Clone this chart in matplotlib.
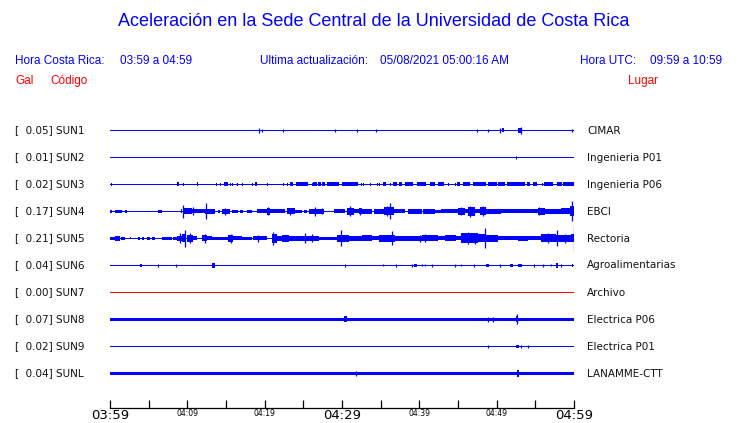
import matplotlib
matplotlib.use("Agg")
import matplotlib.pyplot as plt

# ---------------- data ----------------
codes = ["SUN1", "SUN2", "SUN3", "SUN4", "SUN5", "SUN6", "SUN7", "SUN8", "SUN9", "SUNL"]
gal = [0.05, 0.01, 0.02, 0.17, 0.21, 0.04, 0.00, 0.07, 0.02, 0.04]
places = ["CIMAR", "Ingenieria P01", "Ingenieria P06", "EBCI", "Rectoria",
          "Agroalimentarias", "Archivo", "Electrica P06", "Electrica P01", "LANAMME-CTT"]
trace_colors = ["#0000ff"] * 6 + ["#ff0000"] + ["#0000ff"] * 3
# baseline half thickness of each trace (display px)
base_half = [0.5, 0.5, 0.5, 0.6, 0.8, 0.5, 0.5, 1.7, 0.5, 1.7]

tick_minutes = list(range(0, 61, 5))
tick_labels = ["03:59", "", "04:09", "", "04:19", "", "04:29", "", "04:39", "", "04:49", "", "04:59"]
big_labels = ["03:59", "04:29", "04:59"]

# bursts: (start minute, end minute, half amplitude)
sun1_bursts = [(50.7, 51.0, 2.0), (52.7, 53.3, 2.5)]
sun1_spikes = [(19.27, 2.7), (19.66, 1.6), (22.37, 1.6), (29.1, 1.6), (31.94, 1.6), (34.4, 1.2),
               (47.46, 1.2), (48.88, 1.6), (50.43, 2.7), (53.15, 3.7), (59.74, 1.8)]

sun2_bursts = []
sun2_spikes = [(52.5, 1.8)]

sun3_bursts = [(0.1, 0.3, 1.5), (8.65, 8.9, 2), (9.4, 9.5, 1.5), (11.2, 11.4, 2), (13.7, 13.8, 1.5),
               (14.2, 14.3, 1.5), (14.75, 15.3, 2), (15.5, 15.6, 1.5), (15.75, 15.85, 1.5),
               (16.4, 16.6, 1.5), (17.05, 17.15, 1.5), (18.35, 18.45, 1.5), (18.75, 19.0, 2),
               (20.3, 20.4, 1.5), (22.35, 22.45, 1.5), (22.85, 22.95, 1.5), (23.3, 23.7, 2),
               (24.05, 25.6, 2), (26.1, 26.2, 1.5), (26.25, 26.8, 2), (26.9, 27.3, 2), (27.4, 27.8, 2),
               (28.05, 29.6, 2), (30.0, 32.05, 2), (32.4, 32.5, 1.5), (32.7, 32.8, 1.5),
               (33.6, 33.7, 1.5), (34.5, 34.6, 1.5), (34.75, 34.85, 1.5), (35.3, 35.7, 2),
               (36.2, 36.3, 1.5), (36.6, 37.1, 2), (37.35, 37.8, 2), (38.15, 39.2, 2), (39.7, 40.85, 2),
               (41.4, 42.0, 2), (42.4, 43.2, 2), (43.7, 43.8, 1.5), (44.6, 44.7, 1.5), (44.85, 45.25, 2),
               (45.65, 46.55, 2), (46.9, 48.6, 2), (48.9, 50.05, 2), (50.2, 51.1, 2), (51.35, 53.65, 2),
               (53.9, 54.3, 2), (54.7, 55.2, 2), (55.8, 55.9, 1.5), (56.1, 57.3, 2), (57.8, 58.45, 2),
               (58.6, 60.0, 2)]
sun3_spikes = []

sun4_bursts = [(0.0, 0.26, 1.3), (0.65, 1.55, 1.5), (2.0, 2.15, 1.5), (6.2, 6.7, 1.7), (9.2, 9.3, 2),
               (9.55, 10.6, 3), (10.6, 12.3, 2), (12.3, 13.6, 2.5), (14.0, 14.2, 1.5), (14.5, 15.5, 2.5),
               (15.8, 16.5, 1.5), (16.8, 17.2, 1.5), (17.7, 18.4, 1.5), (19.0, 20.3, 2), (20.3, 20.7, 3.5),
               (20.7, 22.6, 2), (22.9, 23.9, 3), (23.9, 24.8, 1.5), (25.1, 25.5, 1.5), (25.7, 27.7, 2.5),
               (29.0, 30.4, 2), (30.6, 31.6, 3.5), (31.6, 32.2, 2), (32.2, 32.6, 3), (32.6, 33.9, 2.5),
               (34.1, 35.4, 2.5), (35.4, 36.7, 4), (36.7, 38.1, 2), (38.5, 40.3, 2.5), (40.5, 42.0, 2.5),
               (42.0, 42.8, 1.5), (42.8, 45.0, 2), (45.0, 45.9, 3.5), (45.9, 46.3, 2), (46.3, 47.2, 4.5),
               (47.2, 47.8, 2), (47.8, 48.6, 4), (48.6, 50.6, 2.5), (50.6, 55.3, 2), (55.3, 56.2, 3.5),
               (56.2, 58.3, 2.5), (58.3, 59.5, 3), (59.5, 60.0, 5)]
sun4_spikes = [(9.44, 6.3), (10.7, 4), (12.41, 8), (14.87, 3.5), (20.43, 4), (23.3, 3.5), (26.5, 4.5),
               (27.4, 3), (31.03, 5), (32.3, 3.5), (35.8, 5), (36.2, 8), (45.4, 4), (46.55, 5.5),
               (48.2, 5), (55.5, 4), (59.74, 10)]

sun5_bursts = [(0.0, 0.65, 1.5), (0.65, 1.3, 2.5), (1.4, 1.95, 1.5), (2.55, 2.65, 1), (3.6, 3.9, 1.5),
               (4.2, 4.35, 1.5), (4.8, 5.2, 1.5), (5.4, 5.8, 1.5), (6.7, 8.0, 1.5), (8.15, 8.65, 1.5),
               (8.65, 9.3, 2.5), (9.3, 9.7, 4), (9.95, 10.7, 3.5), (10.7, 11.25, 2), (11.9, 12.55, 3),
               (12.55, 13.2, 2), (13.2, 15.25, 1.7), (15.25, 15.9, 3.5), (15.9, 17.05, 2),
               (17.05, 18.35, 1.5), (18.5, 20.3, 2), (20.95, 21.6, 4.5), (21.6, 22.25, 2.5),
               (22.25, 23.15, 3.5), (23.15, 25.2, 2.2), (25.2, 27.0, 2.5), (27.0, 29.35, 1.5),
               (29.35, 30.9, 3.5), (30.9, 32.6, 2.7), (32.6, 33.9, 3), (33.9, 34.8, 2), (34.8, 36.85, 3.5),
               (36.85, 40.35, 2.7), (40.35, 42.4, 3), (42.4, 43.3, 2), (43.3, 44.75, 3), (44.75, 45.4, 2),
               (45.4, 47.6, 5), (47.6, 48.5, 4), (48.6, 50.2, 3.5), (50.2, 52.75, 2), (52.75, 54.05, 2.5),
               (54.05, 55.75, 2), (55.75, 57.7, 4), (57.7, 59.65, 3.5), (59.65, 60.0, 4)]
sun5_spikes = [(9.05, 5), (9.7, 8.5), (10.35, 5), (12.3, 4.5), (15.65, 4.5), (19.15, 3.5), (21.08, 6.5),
               (25.2, 5), (26.1, 4), (29.87, 8), (36.46, 7), (40.1, 3.5), (40.7, 4), (46.3, 6),
               (47.2, 5.5), (48.5, 10), (56.6, 5), (57.8, 8), (58.8, 4.5), (59.95, 12.5)]

sun6_bursts = [(3.88, 4.14, 1.5), (13.2, 13.6, 2.8), (39.3, 39.7, 1.8), (48.6, 49.0, 1.8),
               (51.7, 52.1, 1.5), (52.75, 53.3, 1.8), (57.65, 57.95, 2.2), (59.7, 59.9, 1.8)]
sun6_spikes = [(6.2, 1.5), (8.53, 1.5), (30.4, 1.7), (35.3, 1.0), (37.0, 1.5), (39.05, 1.5),
               (40.35, 1.0), (40.7, 1.0), (41.6, 1.5), (44.6, 1.5), (45.4, 1.0), (47.07, 1.5),
               (50.43, 1.5), (54.8, 1.5), (56.0, 1.5), (57.0, 1.0), (58.3, 1.5)]

sun7_bursts = []
sun7_spikes = []

sun8_bursts = [(30.3, 30.6, 3.0), (52.45, 52.8, 3.0)]
sun8_spikes = [(48.9, 2.5), (49.5, 2.5), (52.6, 5.0)]

sun9_bursts = [(52.5, 52.9, 1.8)]
sun9_spikes = [(48.9, 1.5), (53.1, 1.5), (54.0, 1.5)]

sunl_bursts = [(52.6, 52.9, 3.5)]
sunl_spikes = [(31.8, 2.5)]

all_bursts = [sun1_bursts, sun2_bursts, sun3_bursts, sun4_bursts, sun5_bursts,
              sun6_bursts, sun7_bursts, sun8_bursts, sun9_bursts, sunl_bursts]
all_spikes = [sun1_spikes, sun2_spikes, sun3_spikes, sun4_spikes, sun5_spikes,
              sun6_spikes, sun7_spikes, sun8_spikes, sun9_spikes, sunl_spikes]

# ---------------- layout ----------------
W, H = 740, 423
fig = plt.figure(figsize=(W / 100, H / 100), dpi=100)
fig.patch.set_facecolor("white")

def fx(px):
    return px / W

def fy(py):
    return 1 - py / H

AX_L, AX_R, AX_T, AX_B = 110, 574, 112, 408
ax = fig.add_axes([fx(AX_L), fy(AX_B), (AX_R - AX_L) / W, (AX_B - AX_T) / H])
ax.set_xlim(0, 60)
ax.set_ylim(AX_B, AX_T)   # y in display pixels from top
ax.set_facecolor("none")
for s in ["top", "left", "right"]:
    ax.spines[s].set_visible(False)
ax.spines["bottom"].set_linewidth(0.9)
ax.set_yticks([])
ax.set_xticks(tick_minutes)
ax.set_xticklabels(tick_labels)
ax.tick_params(axis="x", direction="in", length=5.5, width=0.9, pad=0.8, colors="black")
for lab in ax.get_xticklabels():
    if lab.get_text() in big_labels:
        lab.set_fontsize(9.5)
    else:
        lab.set_fontsize(5.5)

px_per_min = (AX_R - AX_L) / 60.0
row0, row_gap = 130.5, 27

label_font = ["DejaVu Sans"]
head_font = ["Liberation Sans", "DejaVu Sans"]

for i, code in enumerate(codes):
    y = row0 + row_gap * i
    c = trace_colors[i]
    hb = base_half[i]
    ax.bar(x=0, height=2 * hb, width=60, bottom=y - hb, align="edge", color=c, lw=0)
    for (t0, t1, h) in all_bursts[i]:
        w = max(t1 - t0, 1.0 / px_per_min)
        ax.bar(x=t0, height=2 * h, width=w, bottom=y - h, align="edge", color=c, lw=0)
    for (t, h) in all_spikes[i]:
        ax.vlines(t, y - h, y + h, color=c, lw=0.9)
    fig.text(fx(15), fy(y), f"[ {gal[i]:5.2f}] {code}", ha="left", va="center",
             fontsize=7.5, family=label_font, color="#111111")
    fig.text(fx(587), fy(y), places[i], ha="left", va="center",
             fontsize=7.5, family=label_font, color="#111111")

# ---------------- header ----------------
blue, red = "#0000ff", "#ff0000"
fig.text(fx(374), fy(22), "Aceleración en la Sede Central de la Universidad de Costa Rica",
         ha="center", va="center", fontsize=13, family=head_font, color=blue)
hy = fy(61)
fig.text(fx(15), hy, "Hora Costa Rica:", ha="left", va="center", fontsize=8.5, family=head_font, color=blue)
fig.text(fx(120), hy, "03:59 a 04:59", ha="left", va="center", fontsize=8.5, family=head_font, color=blue)
fig.text(fx(260), hy, "Ultima actualización:", ha="left", va="center", fontsize=8.5, family=head_font, color=blue)
fig.text(fx(380), hy, "05/08/2021 05:00:16 AM", ha="left", va="center", fontsize=8.5, family=head_font, color=blue)
fig.text(fx(580), hy, "Hora UTC:", ha="left", va="center", fontsize=8.5, family=head_font, color=blue)
fig.text(fx(650), hy, "09:59 a 10:59", ha="left", va="center", fontsize=8.5, family=head_font, color=blue)
gy = fy(81)
fig.text(fx(15), gy, "Gal", ha="left", va="center", fontsize=8.5, family=head_font, color=red)
fig.text(fx(50), gy, "Código", ha="left", va="center", fontsize=8.5, family=head_font, color=red)
fig.text(fx(628), gy, "Lugar", ha="left", va="center", fontsize=8.5, family=head_font, color=red)

fig.savefig("out.png", dpi=100, facecolor="white")
